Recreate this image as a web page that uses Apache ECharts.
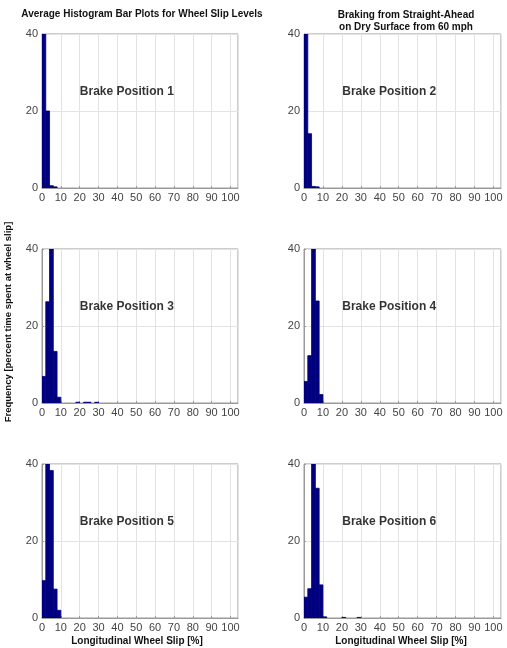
<!DOCTYPE html>
<html>
<head>
<meta charset="utf-8">
<script src="https://cdn.jsdelivr.net/npm/echarts@6/dist/echarts.min.js"></script>
<style>
html,body{margin:0;padding:0;background:#fff;}
#chart{width:507px;height:648px;}
</style>
</head>
<body>
<div id="chart"></div>
<script>
// Bin left edges (longitudinal wheel slip, %), bin width 2
const binStarts = [0, 2, 4, 6, 8, 10, 12, 14, 16, 18, 20, 22, 24, 26, 28];
const binWidth = 2;
// Frequency (percent time) per bin for each brake position
const brake1 = [79, 20, 0.6, 0.3, 0, 0, 0, 0, 0, 0, 0, 0, 0, 0, 0];
const brake2 = [85, 14.1, 0.4, 0.3, 0, 0, 0, 0, 0, 0, 0, 0, 0, 0, 0];
const brake3 = [6.9, 26.3, 51, 13.4, 1.5, 0, 0, 0, 0, 0.2, 0, 0.2, 0.2, 0, 0.2];
const brake4 = [5.6, 12.3, 53, 26.5, 2.2, 0, 0, 0, 0, 0, 0, 0, 0, 0, 0];
const brake5 = [9.7, 41, 38.3, 7.5, 2.0, 0, 0, 0, 0, 0, 0, 0, 0, 0, 0];
const brake6 = [5.4, 7.6, 44, 33.7, 8.6, 0.3, 0, 0, 0, 0, 0.15, 0, 0, 0, 0.15];
const panelNames = ['Brake Position 1','Brake Position 2','Brake Position 3','Brake Position 4','Brake Position 5','Brake Position 6'];
const xTicks = [0,10,20,30,40,50,60,70,80,90,100];
const yTicks = [0,20,40];

const panels = [brake1, brake2, brake3, brake4, brake5, brake6];
const chart = echarts.init(document.getElementById('chart'));

const colLeft = [42, 304];
const colWidth = [196, 197];
const rowTop = [34, 249, 464];
const rowHeight = 154;

const grids = [], xAxes = [], yAxes = [], series = [], titles = [];
panels.forEach((vals, i) => {
  const c = i % 2, r = Math.floor(i / 2);
  grids.push({left: colLeft[c], top: rowTop[r], width: colWidth[c], height: rowHeight,
    show: true, borderColor: '#9a9a9a', borderWidth: 1, backgroundColor: '#fff'});
  xAxes.push({type: 'value', gridIndex: i, min: 0, max: 104, interval: 10,
    axisLine: {show: true, lineStyle: {color: '#9a9a9a'}},
    axisTick: {show: true, inside: true, length: 2, lineStyle: {color: '#9a9a9a'}},
    axisLabel: {color: '#444', fontFamily: 'Liberation Sans, Arial', fontSize: 11, margin: 4, showMaxLabel: false,
      formatter: v => xTicks.indexOf(v) >= 0 ? String(v) : ''},
    splitLine: {show: true, lineStyle: {color: '#e3e3e3', width: 1}}});
  yAxes.push({type: 'value', gridIndex: i, min: 0, max: 40, interval: 20,
    axisLine: {show: true, lineStyle: {color: '#9a9a9a'}},
    axisTick: {show: true, inside: true, length: 2, lineStyle: {color: '#9a9a9a'}},
    axisLabel: {color: '#444', fontFamily: 'Liberation Sans, Arial', fontSize: 11, margin: 4,
      formatter: v => yTicks.indexOf(v) >= 0 ? String(v) : ''},
    splitLine: {show: true, lineStyle: {color: '#e3e3e3', width: 1}}});
  const data = binStarts.map((b, k) => [b, b + binWidth, vals[k]]).filter(d => d[2] > 0);
  series.push({type: 'custom', xAxisIndex: i, yAxisIndex: i, clip: true,
    encode: {x: [0, 1], y: 2},
    renderItem: (params, api) => {
      const p0 = api.coord([api.value(0), 0]);
      const p1 = api.coord([api.value(1), api.value(2)]);
      const rect = echarts.graphic.clipRectByRect(
        {x: p0[0], y: p1[1], width: p1[0] - p0[0], height: p0[1] - p1[1]},
        {x: params.coordSys.x, y: params.coordSys.y, width: params.coordSys.width, height: params.coordSys.height});
      return rect ? {type: 'rect', shape: rect, style: {fill: '#00007f', stroke: '#00007f', lineWidth: 0.8}} : null;
    },
    data: data});
  // annotation at data point (45, 25)
  series.push({type: 'scatter', xAxisIndex: i, yAxisIndex: i, symbolSize: 0, silent: true,
    data: [[45, 25]],
    label: {show: true, position: 'inside', formatter: panelNames[i], color: '#000',
      fontFamily: 'Liberation Sans, Arial', fontWeight: 'bold', fontSize: 12}});
});

titles.push({text: 'Average Histogram Bar Plots for Wheel Slip Levels', left: 137, top: 4, textAlign: 'center',
  textStyle: {fontFamily: 'Liberation Sans, Arial', fontWeight: 'bold', fontSize: 10, color: '#111'}});
titles.push({text: 'Braking from Straight-Ahead\non Dry Surface from 60 mph', left: 401, top: 4, textAlign: 'center',
  textStyle: {fontFamily: 'Liberation Sans, Arial', fontWeight: 'bold', fontSize: 10, color: '#111', lineHeight: 12}});
titles.push({text: 'Longitudinal Wheel Slip [%]', left: 132, top: 631, textAlign: 'center',
  textStyle: {fontFamily: 'Liberation Sans, Arial', fontWeight: 'bold', fontSize: 10, color: '#111'}});
titles.push({text: 'Longitudinal Wheel Slip [%]', left: 396, top: 631, textAlign: 'center',
  textStyle: {fontFamily: 'Liberation Sans, Arial', fontWeight: 'bold', fontSize: 10, color: '#111'}});

chart.setOption({
  animation: false,
  title: titles,
  grid: grids,
  xAxis: xAxes,
  yAxis: yAxes,
  series: series,
  graphic: [{type: 'text', x: 3, y: 322, rotation: Math.PI / 2,
    style: {text: 'Frequency [percent time spent at wheel slip]', fill: '#111',
      font: 'bold 9.5px "Liberation Sans", Arial', align: 'center', verticalAlign: 'top'}}]
});
</script>
</body>
</html>
